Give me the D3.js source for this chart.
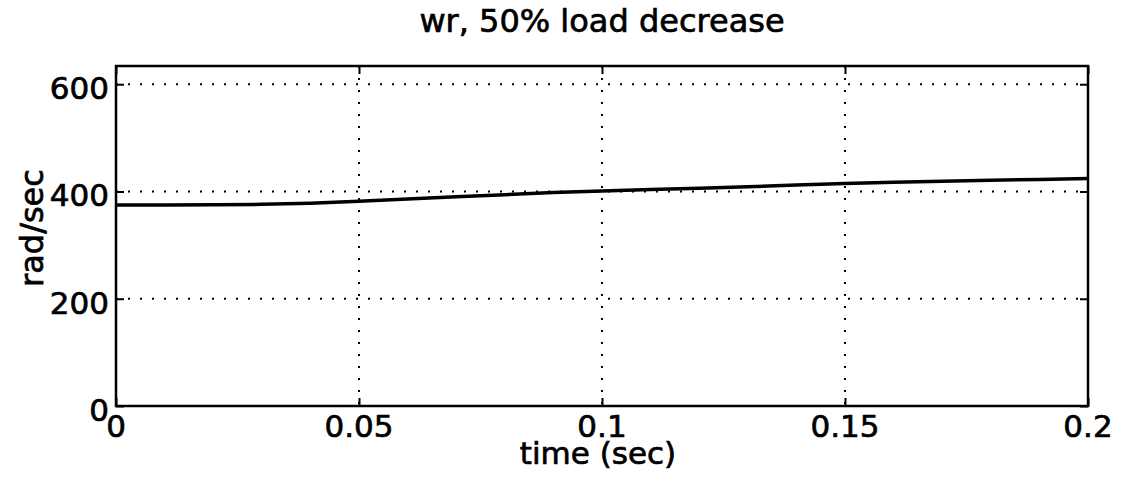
<!DOCTYPE html>
<html>
<head>
<meta charset="utf-8">
<script src="https://cdn.jsdelivr.net/npm/d3@7"></script>
<style>
  body { margin: 0; background: #fff; }
  text { font-family: "DejaVu Sans", sans-serif; fill: #000; stroke: #000; stroke-width: 0.7px; }
</style>
</head>
<body>
<div id="chart"></div>
<script>
// wr response to a 50% load decrease
var timeVals = [0, 0.01, 0.02, 0.03, 0.04, 0.05, 0.06, 0.07, 0.08, 0.09, 0.1,
                0.11, 0.12, 0.13, 0.14, 0.15, 0.16, 0.17, 0.18, 0.19, 0.2];
var wrVals = [375, 375, 375.5, 376, 378, 382, 386, 390, 394, 398, 401,
              403.5, 406, 409, 412, 415, 417, 419, 421, 422.5, 424];
var xTicks = [0, 0.05, 0.1, 0.15, 0.2];
var xTickLabels = ["0", "0.05", "0.1", "0.15", "0.2"];
var yTicks = [0, 200, 400, 600];
var titleText = "wr, 50% load decrease";
var xLabelText = "time (sec)";
var yLabelText = "rad/sec";

var W = 1126, H = 496;
var margin = { top: 66, right: 38, bottom: 90, left: 116 };
var width = W - margin.left - margin.right,
    height = H - margin.top - margin.bottom;

var svg = d3.select("#chart").append("svg")
    .attr("width", W)
    .attr("height", H);

var g = svg.append("g")
    .attr("transform", "translate(" + margin.left + "," + margin.top + ")");

var x = d3.scaleLinear().domain([0, 0.2]).range([0, width]);
var y = d3.scaleLinear().domain([0, 634]).range([height, 0]);

var data = timeVals.map(function (t, i) { return { t: t, v: wrVals[i] }; });

// dotted grid
g.selectAll(".vgrid").data(xTicks.slice(1, -1)).enter().append("line")
    .attr("x1", function (d) { return x(d); })
    .attr("x2", function (d) { return x(d); })
    .attr("y1", 0).attr("y2", height)
    .attr("stroke", "#000").attr("stroke-width", 2)
    .attr("stroke-dasharray", "2,10");

g.selectAll(".hgrid").data(yTicks.slice(1)).enter().append("line")
    .attr("x1", 0).attr("x2", width)
    .attr("y1", function (d) { return y(d); })
    .attr("y2", function (d) { return y(d); })
    .attr("stroke", "#000").attr("stroke-width", 2)
    .attr("stroke-dasharray", "2,10");

// axes: ticks pointing inward, labels drawn separately
var xAxisB = d3.axisBottom(x).tickValues(xTicks).tickSize(-8).tickFormat("");
var xAxisT = d3.axisTop(x).tickValues(xTicks).tickSize(-8).tickFormat("");
var yAxisL = d3.axisLeft(y).tickValues(yTicks).tickSize(-8).tickFormat("");
var yAxisR = d3.axisRight(y).tickValues(yTicks).tickSize(-8).tickFormat("");

g.append("g").attr("transform", "translate(0," + height + ")").call(xAxisB);
g.append("g").call(xAxisT);
g.append("g").call(yAxisL);
g.append("g").attr("transform", "translate(" + width + ",0)").call(yAxisR);
g.selectAll(".domain").remove();
g.selectAll(".tick line").attr("stroke", "#000").attr("stroke-width", 2);

// frame
g.append("rect")
    .attr("x", 0).attr("y", 0)
    .attr("width", width).attr("height", height)
    .attr("fill", "none").attr("stroke", "#000").attr("stroke-width", 2.5);

// tick labels
g.selectAll(".xlab").data(xTicks).enter().append("text")
    .attr("x", function (d) { return x(d); })
    .attr("y", height + 31)
    .attr("text-anchor", "middle")
    .style("font-size", "31px")
    .text(function (d, i) { return xTickLabels[i]; });

g.selectAll(".ylab").data(yTicks).enter().append("text")
    .attr("x", -7)
    .attr("y", function (d) { return y(d) + 15; })
    .attr("text-anchor", "end")
    .style("font-size", "31px")
    .text(function (d) { return d; });

// data line
var line = d3.line()
    .x(function (d) { return x(d.t); })
    .y(function (d) { return y(d.v); });

g.append("path")
    .datum(data)
    .attr("d", line)
    .attr("fill", "none")
    .attr("stroke", "#000")
    .attr("stroke-width", 3.5);

// titles
svg.append("text")
    .attr("x", margin.left + width / 2)
    .attr("y", 32)
    .attr("text-anchor", "middle")
    .style("font-size", "32px")
    .text(titleText);

svg.append("text")
    .attr("x", margin.left + width / 2 - 4)
    .attr("y", 464)
    .attr("text-anchor", "middle")
    .style("font-size", "31px")
    .text(xLabelText);

svg.append("text")
    .attr("transform", "translate(43,228) rotate(-90)")
    .attr("text-anchor", "middle")
    .style("font-size", "32px")
    .text(yLabelText);
</script>
</body>
</html>
